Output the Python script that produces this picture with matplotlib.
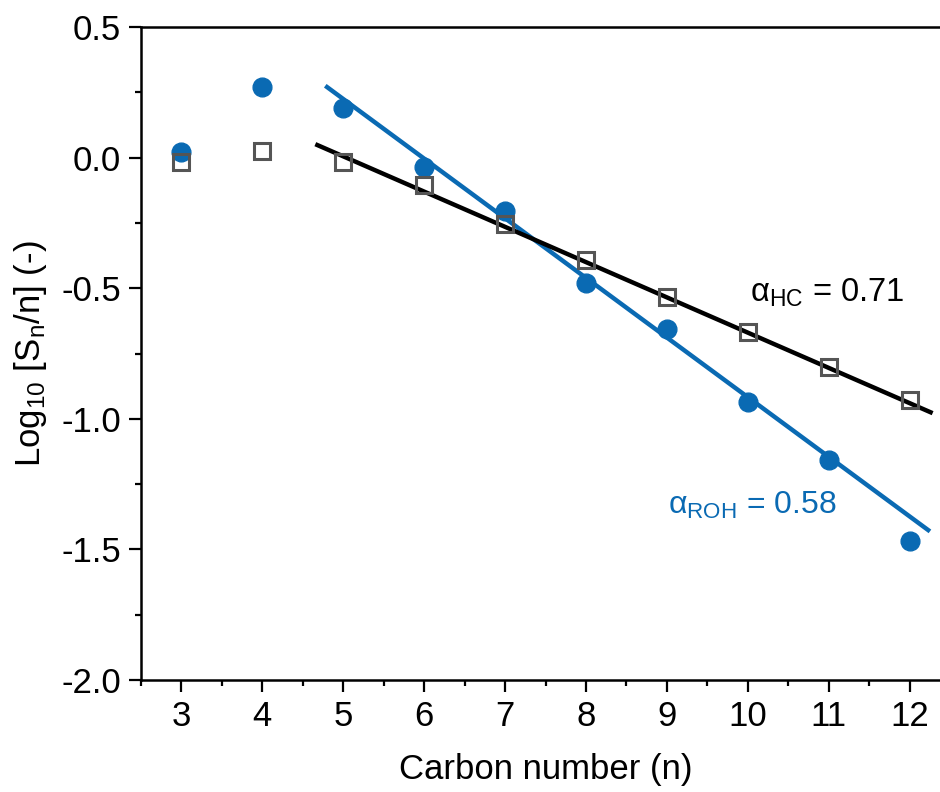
import matplotlib
matplotlib.use("Agg")
import matplotlib.pyplot as plt
from matplotlib.ticker import MultipleLocator
import numpy as np

plt.rcParams['font.family'] = ['Liberation Sans', 'DejaVu Sans']
plt.rcParams['mathtext.fontset'] = 'custom'
plt.rcParams['mathtext.rm'] = 'Liberation Sans'
plt.rcParams['mathtext.it'] = 'Liberation Sans:italic'

carbon = [3, 4, 5, 6, 7, 8, 9, 10, 11, 12]
roh = [0.02, 0.27, 0.19, -0.036, -0.205, -0.48, -0.656, -0.936, -1.158, -1.468]
hc = [-0.017, 0.025, -0.017, -0.105, -0.254, -0.392, -0.534, -0.668, -0.802, -0.928]

# fitted lines: (x start, x end, y start, y end)
roh_fit_x = [4.8, 12.23]
roh_fit_y = [0.27, -1.426]
hc_fit_x = [4.68, 12.26]
hc_fit_y = [0.048, -0.975]

blue = '#0a6ab3'

fig = plt.figure(figsize=(9.4, 7.92), dpi=100)
ax = fig.add_axes([141/940, 1 - 680/792, (950 - 141)/940, (680 - 27)/792])

ax.plot(roh_fit_x, roh_fit_y, color=blue, lw=3.2, zorder=2)
ax.plot(hc_fit_x, hc_fit_y, color='black', lw=3.2, zorder=2)
ax.plot(carbon, roh, 'o', color=blue, ms=13.5, mec=blue, zorder=3)
ax.plot(carbon, hc, 's', mfc='none', mec='#555555', mew=2.2, ms=11.5, zorder=3)

ax.set_xlim(2.5, 12.5)
ax.set_ylim(-2.0, 0.5)
ax.xaxis.set_major_locator(MultipleLocator(1))
ax.xaxis.set_minor_locator(MultipleLocator(0.5))
ax.yaxis.set_major_locator(MultipleLocator(0.5))
ax.yaxis.set_minor_locator(MultipleLocator(0.25))
ax.yaxis.set_major_formatter(plt.FuncFormatter(lambda v, p: f"{v:.1f}"))
ax.tick_params(which='major', direction='out', length=8.5, width=1.6, labelsize=25, pad=6)
ax.tick_params(which='minor', direction='out', length=4.5, width=1.6)
ax.spines['right'].set_visible(False)
for s in ['left', 'bottom', 'top']:
    ax.spines[s].set_linewidth(1.8)

ax.set_xlabel('Carbon number (n)', fontsize=25, labelpad=14)
ax.set_ylabel(r'Log$_{\mathrm{10}}$ [S$_{\mathrm{n}}$/n] (-)', fontsize=25, labelpad=9)

ax.text(10.03, -0.518, r'α$_{\mathrm{HC}}$ = 0.71', fontsize=23.5, color='black', va='center', ha='left')
ax.text(9.01, -1.33, r'α$_{\mathrm{ROH}}$ = 0.58', fontsize=23, color=blue, va='center', ha='left')

fig.savefig('out.png', dpi=100)
